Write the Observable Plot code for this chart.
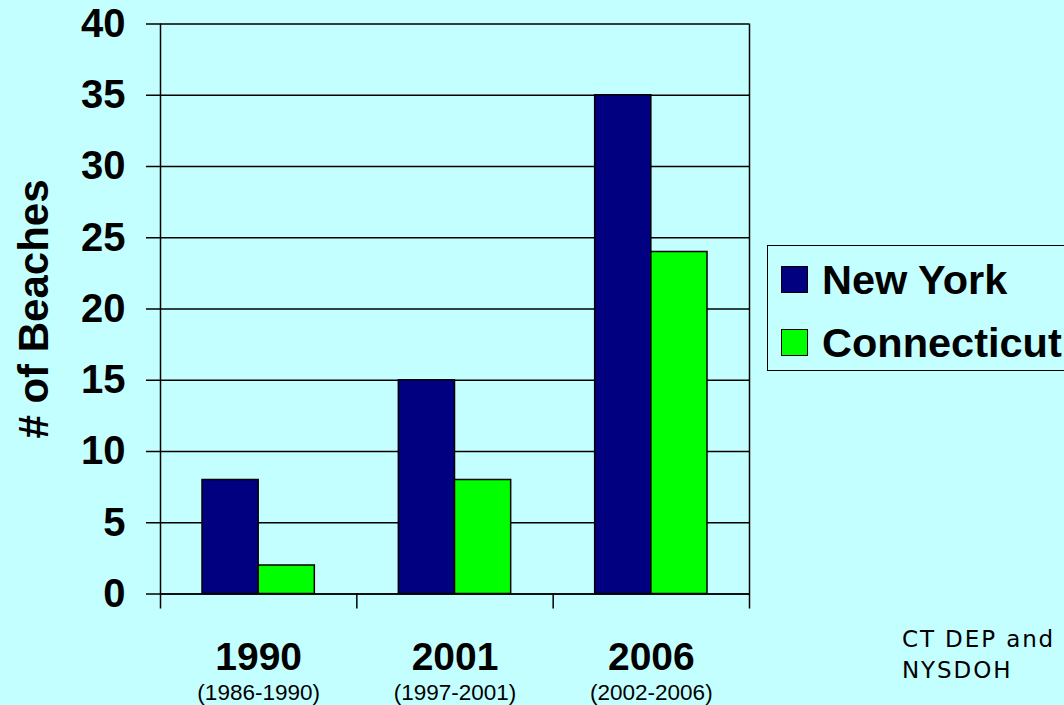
<!DOCTYPE html>
<html>
<head>
<meta charset="utf-8">
<script src="https://cdn.jsdelivr.net/npm/d3@7"></script>
<script src="https://cdn.jsdelivr.net/npm/@observablehq/plot@0.6"></script>
<style>
html,body{margin:0;padding:0;background:#C4FFFF;overflow:hidden;}
#wrap{position:relative;width:1064px;height:705px;background:#C4FFFF;font-family:"Liberation Sans",Arial,sans-serif;color:#000;}
#chart{position:absolute;left:0;top:0;}
#legend{position:absolute;left:767px;top:245px;width:330px;height:126px;border:1.5px solid #000;box-sizing:border-box;}
.sw{position:absolute;left:13px;width:27px;height:27px;border:1.5px solid #000;box-sizing:border-box;}
.lt{position:absolute;left:54px;font-weight:bold;font-size:41.5px;line-height:42px;white-space:nowrap;}
#note{position:absolute;left:902px;top:623.5px;font-family:"DejaVu Sans",Verdana,sans-serif;font-size:23px;letter-spacing:1.9px;line-height:31px;}
</style>
</head>
<body>
<div id="wrap">
  <div id="chart"></div>
  <div id="legend">
    <div class="sw" style="top:20px;background:#000080"></div>
    <div class="lt" style="top:13px">New York</div>
    <div class="sw" style="top:83px;background:#00FF00"></div>
    <div class="lt" style="top:76px">Connecticut</div>
  </div>
  <div id="note">CT DEP and<br>NYSDOH</div>
</div>
<script>
// ---- data ----
const years = ["1990", "2001", "2006"];
const periods = ["(1986-1990)", "(1997-2001)", "(2002-2006)"];
const newYork = [8, 15, 35];
const connecticut = [2, 8, 24];
const yTicks = [0, 5, 10, 15, 20, 25, 30, 35, 40];

// ---- layout ----
const W = 1064, H = 705;
const mL = 160, mR = 315, mT = 23.5, mB = 111.5;
const plotW = W - mL - mR, plotH = H - mT - mB;
const bw = plotW / years.length;
const side = 42;                 // gap at each side of the bar pair
const half = (bw - 2 * side) / 2; // one bar width
const tickUnits = 15 * 40 / plotH; // 15px tick below axis, in data units

const marks = [
  Plot.gridY(yTicks, {stroke: "#000", strokeOpacity: 1, strokeWidth: 1.5}),
  Plot.barY(years, {x: d => d, y: (d, i) => newYork[i], fill: "#000080", stroke: "#000", strokeWidth: 1.5,
    insetLeft: side, insetRight: bw - side - half}),
  Plot.barY(years, {x: d => d, y: (d, i) => connecticut[i], fill: "#00FF00", stroke: "#000", strokeWidth: 1.5,
    insetLeft: side + half, insetRight: side}),
  Plot.ruleY([0], {stroke: "#000", strokeWidth: 1.5}),
  Plot.axisY(yTicks, {tickSize: 14, tickPadding: 21, fontSize: 40, fontWeight: "bold", strokeWidth: 1.5, label: null}),
  Plot.ruleX([years[0]], {x: d => d, dx: -bw / 2, y1: -tickUnits, y2: 40, stroke: "#000", strokeWidth: 1.5}),
  Plot.ruleX(years.slice(1), {x: d => d, dx: -bw / 2, y1: -tickUnits, y2: 0, stroke: "#000", strokeWidth: 1.5}),
  Plot.ruleX([years[years.length - 1]], {x: d => d, dx: bw / 2, y1: -tickUnits, y2: 40, stroke: "#000", strokeWidth: 1.5}),
  Plot.text(["# of Beaches"], {frameAnchor: "left", textAnchor: "middle", dx: -126, rotate: -90, fontSize: 42, fontWeight: "bold"}),
  Plot.text(years, {x: d => d, frameAnchor: "bottom", textAnchor: "middle", lineAnchor: "middle", dy: 64, fontSize: 39, fontWeight: "bold"}),
  Plot.text(periods, {x: (d, i) => years[i], frameAnchor: "bottom", textAnchor: "middle", lineAnchor: "middle", dy: 99, fontSize: 22.5})
];

const chart = Plot.plot({
  width: W, height: H,
  marginLeft: mL, marginRight: mR, marginTop: mT, marginBottom: mB,
  style: {background: "transparent", fontFamily: "'Liberation Sans', Arial, sans-serif", color: "#000", overflow: "visible"},
  x: {domain: years, padding: 0, round: false, axis: null},
  y: {domain: [0, 40], axis: null},
  marks
});
document.getElementById("chart").appendChild(chart);
</script>
</body>
</html>
